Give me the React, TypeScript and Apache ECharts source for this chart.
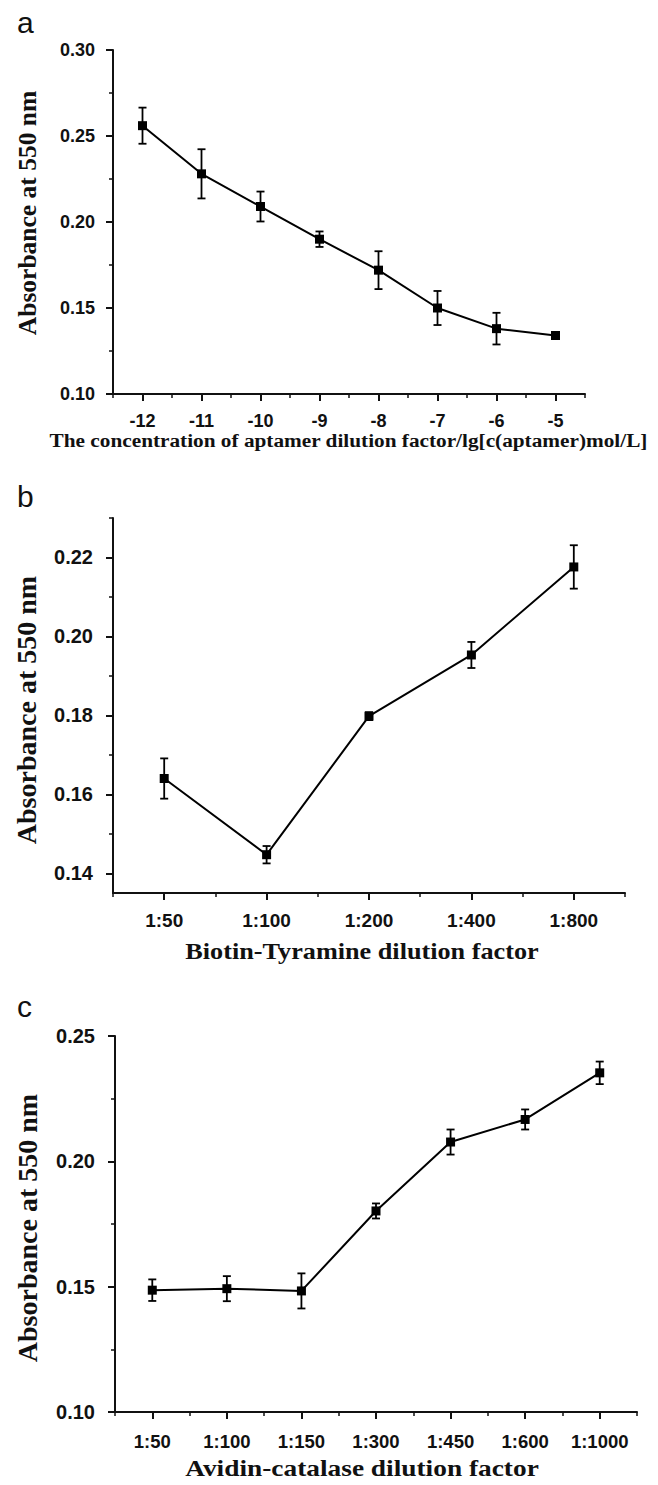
import React, { useEffect, useRef } from "react";
import * as echarts from "echarts";

// Panel a
const xA = [-12, -11, -10, -9, -8, -7, -6, -5];
const yA = [0.256, 0.228, 0.209, 0.19, 0.172, 0.15, 0.138, 0.134];
const errA = [0.0105, 0.0143, 0.0087, 0.0045, 0.011, 0.0099, 0.0092, 0.002];
const yTicksA = [0.1, 0.15, 0.2, 0.25, 0.3];
const yMinorA = [0.125, 0.175, 0.225, 0.275];
const xMinorA = [-12.5, -11.5, -10.5, -9.5, -8.5, -7.5, -6.5, -5.5, -4.5];

// Panel b
const catsB = ["1:50", "1:100", "1:200", "1:400", "1:800"];
const xB = [1, 2, 3, 4, 5];
const yB = [0.164, 0.1447, 0.1798, 0.1953, 0.2176];
const errB = [0.0051, 0.0022, 0.001, 0.0033, 0.0055];
const yTicksB = [0.14, 0.16, 0.18, 0.2, 0.22];
const yMinorB = [0.15, 0.17, 0.19, 0.21, 0.23];
const xMinorB = [0.5, 1.5, 2.5, 3.5, 4.5, 5.5];

// Panel c
const catsC = ["1:50", "1:100", "1:150", "1:300", "1:450", "1:600", "1:1000"];
const xC = [1, 2, 3, 4, 5, 6, 7];
const yC = [0.1486, 0.1492, 0.1483, 0.1802, 0.2077, 0.2167, 0.2353];
const errC = [0.0043, 0.005, 0.007, 0.003, 0.005, 0.004, 0.0045];
const yTicksC = [0.1, 0.15, 0.2, 0.25];
const yMinorC = [0.125, 0.175, 0.225];
const xMinorC = [0.5, 1.5, 2.5, 3.5, 4.5, 5.5, 6.5, 7.5];

const yName = "Absorbance at 550 nm";
const xNameA = "The concentration of aptamer dilution factor/lg[c(aptamer)mol/L]";
const xNameB = "Biotin-Tyramine dilution factor";
const xNameC = "Avidin-catalase dilution factor";

const SANS = "'Liberation Sans', Arial, sans-serif";
const SERIF = "'Liberation Serif', 'Times New Roman', serif";
const INK = "#111";

function mainAxis(
  dim: "x" | "y",
  gridIndex: number,
  min: number,
  max: number,
  ticks: number[],
  fmt: (v: number) => string,
  fontSize: number,
  margin: number
) {
  return {
    type: "value",
    gridIndex,
    min,
    max,
    position: dim === "y" ? "left" : "bottom",
    axisLine: { show: true, onZero: false, lineStyle: { color: INK, width: 2 } },
    axisTick: { show: true, customValues: ticks, length: 7, inside: false, lineStyle: { color: INK, width: 2 } },
    axisLabel: {
      show: true,
      customValues: ticks,
      formatter: (v: number) => fmt(v),
      fontFamily: SANS,
      fontWeight: "bold",
      fontSize,
      color: INK,
      margin,
    },
    splitLine: { show: false },
  };
}

function minorAxis(dim: "x" | "y", gridIndex: number, min: number, max: number, ticks: number[]) {
  return {
    type: "value",
    gridIndex,
    min,
    max,
    position: dim === "y" ? "left" : "bottom",
    axisLine: { show: false, onZero: false },
    axisTick: { show: true, customValues: ticks, length: 4, inside: false, lineStyle: { color: INK, width: 1.5 } },
    axisLabel: { show: false },
    splitLine: { show: false },
  };
}

function errSeries(xi: number, yi: number, xs: number[], ys: number[], es: number[]) {
  return {
    type: "custom",
    xAxisIndex: xi,
    yAxisIndex: yi,
    encode: { x: 0, y: [1, 2] },
    data: xs.map((x, i) => [x, ys[i] - es[i], ys[i] + es[i]]),
    z: 2,
    renderItem: (params: any, api: any) => {
      const x = api.value(0);
      const lo = api.value(1);
      const hi = api.value(2);
      const p1 = api.coord([x, hi]);
      const p2 = api.coord([x, lo]);
      const w = 4;
      const style = { stroke: "#000", lineWidth: 1.8 };
      return {
        type: "group",
        children: [
          { type: "line", shape: { x1: p1[0], y1: p1[1], x2: p2[0], y2: p2[1] }, style },
          { type: "line", shape: { x1: p1[0] - w, y1: p1[1], x2: p1[0] + w, y2: p1[1] }, style },
          { type: "line", shape: { x1: p2[0] - w, y1: p2[1], x2: p2[0] + w, y2: p2[1] }, style },
        ],
      };
    },
  };
}

function lineSeries(xi: number, yi: number, xs: number[], ys: number[]) {
  return {
    type: "line",
    xAxisIndex: xi,
    yAxisIndex: yi,
    data: xs.map((x, i) => [x, ys[i]]),
    symbol: "rect",
    symbolSize: 9,
    itemStyle: { color: "#000" },
    lineStyle: { color: "#000", width: 2 },
    z: 3,
  };
}

function title(text: string, x: number, y: number, size: number, scaleX: number, rotate = false) {
  return {
    type: "text",
    x,
    y,
    scaleX: rotate ? 1 : scaleX,
    rotation: rotate ? Math.PI / 2 : 0,
    style: {
      text,
      font: `bold ${size}px ${SERIF}`,
      fill: INK,
      align: "center",
      verticalAlign: "middle",
      textAlign: "center",
      textVerticalAlign: "middle",
    },
  };
}

function panelLabel(text: string, x: number, y: number) {
  return { type: "text", left: x, top: y, style: { text, font: `30px ${SANS}`, fill: INK } };
}

export default function App() {
  const ref = useRef<HTMLDivElement>(null);
  useEffect(() => {
    document.body.style.margin = "0";
    if (!ref.current) return;
    const chart = echarts.init(ref.current, undefined, { renderer: "svg" });
    const f2 = (v: number) => v.toFixed(2);
    const option: any = {
      animation: false,
      backgroundColor: "#fff",
      grid: [
        { left: 113, top: 50, width: 472, height: 344 },
        { left: 113, top: 518, width: 512, height: 375 },
        { left: 115, top: 1036, width: 522, height: 376 },
      ],
      xAxis: [
        mainAxis("x", 0, -12.5, -4.5, xA, (v) => String(v), 18, 18),
        mainAxis("x", 1, 0.5, 5.5, xB, (v) => catsB[Math.round(v) - 1] ?? "", 19, 18),
        mainAxis("x", 2, 0.5, 7.5, xC, (v) => catsC[Math.round(v) - 1] ?? "", 18.5, 20),
        minorAxis("x", 0, -12.5, -4.5, xMinorA),
        minorAxis("x", 1, 0.5, 5.5, xMinorB),
        minorAxis("x", 2, 0.5, 7.5, xMinorC),
      ],
      yAxis: [
        mainAxis("y", 0, 0.1, 0.3, yTicksA, f2, 18, 18),
        mainAxis("y", 1, 0.135, 0.23, yTicksB, f2, 20, 20),
        mainAxis("y", 2, 0.1, 0.25, yTicksC, f2, 20, 20),
        minorAxis("y", 0, 0.1, 0.3, yMinorA),
        minorAxis("y", 1, 0.135, 0.23, yMinorB),
        minorAxis("y", 2, 0.1, 0.25, yMinorC),
      ],
      series: [
        errSeries(0, 0, xA, yA, errA),
        lineSeries(0, 0, xA, yA),
        errSeries(1, 1, xB, yB, errB),
        lineSeries(1, 1, xB, yB),
        errSeries(2, 2, xC, yC, errC),
        lineSeries(2, 2, xC, yC),
      ],
      graphic: [
        panelLabel("a", 17, 7),
        panelLabel("b", 17, 481),
        panelLabel("c", 17, 991),
        title(yName, 27, 213, 25.5, 1, true),
        title(yName, 26, 710, 28, 1, true),
        title(yName, 27, 1228, 28, 1, true),
        title(xNameA, 348.5, 440, 19, 1.12),
        title(xNameB, 362, 951, 23, 1.14),
        title(xNameC, 362, 1468, 23, 1.19),
      ],
    };
    chart.setOption(option);
    return () => chart.dispose();
  }, []);
  return <div ref={ref} style={{ width: 658, height: 1485 }} />;
}
